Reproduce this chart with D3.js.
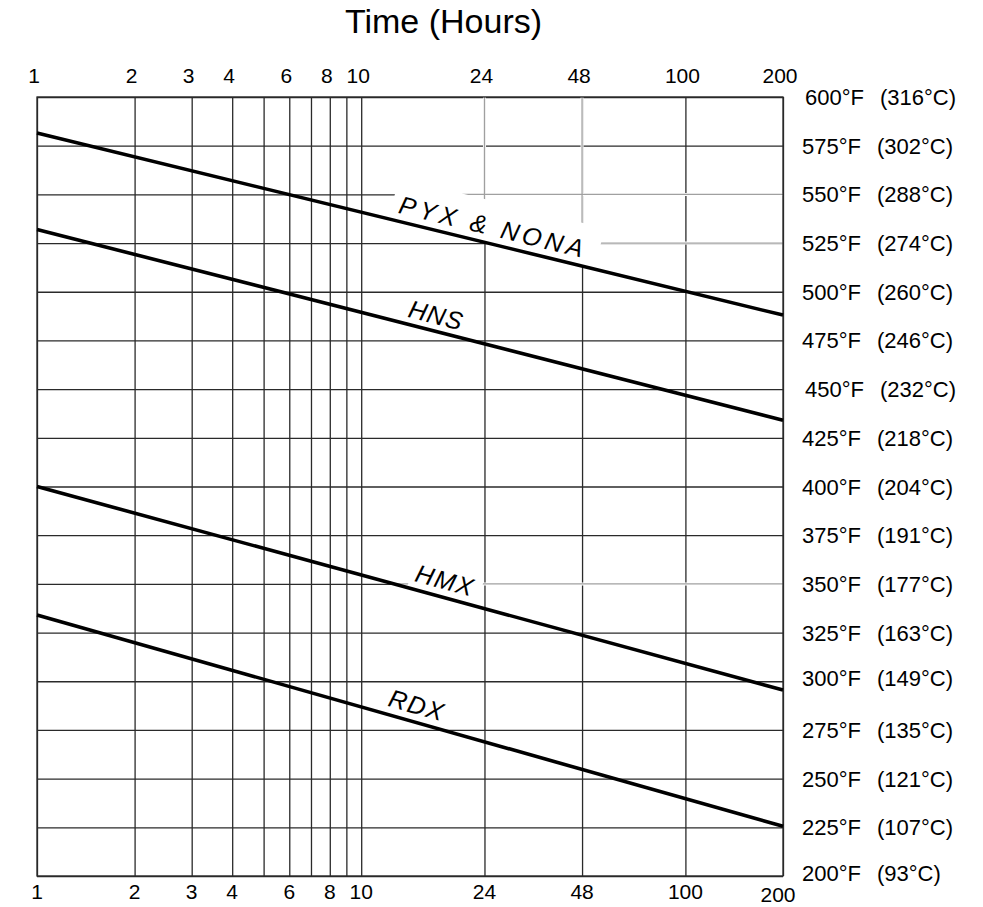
<!DOCTYPE html>
<html><head><meta charset="utf-8">
<script src="https://cdn.jsdelivr.net/npm/d3@7"></script>
<style>
body{margin:0;background:#fff}
svg text{font-family:"Liberation Sans",Arial,Helvetica,sans-serif;fill:#000}
</style></head>
<body><svg id="chart" width="983" height="907"></svg>
<script>
// ---- data ----
const hours = [1, 200];
const seriesNames = ["PYX & NONA", "HNS", "HMX", "RDX"];
const pyxNona = [581.5, 488];
const hns = [532, 434];
const hmx = [400, 295.5];
const rdx = [334, 225.5];
const seriesValues = [pyxNona, hns, hmx, rdx];
const labelHours = [24.5, 16.5, 17.5, 14.3];
const xTickLabels = [1, 2, 3, 4, 6, 8, 10, 24, 48, 100, 200];
const xGridHours = [1, 2, 3, 4, 5, 6, 7, 8, 9, 10, 24, 48, 100, 200];
const tempF = [600, 575, 550, 525, 500, 475, 450, 425, 400, 375, 350, 325, 300, 275, 250, 225, 200];
const tempC = [316, 302, 288, 274, 260, 246, 232, 218, 204, 191, 177, 163, 149, 135, 121, 107, 93];
const chartTitle = "Time (Hours)";

// ---- layout ----
const svg = d3.select("#chart");
const x = d3.scaleLog().domain([1, 200]).range([37, 783]);
const y = d3.scaleLinear().domain([200, 600]).range([876, 97]);
const pTop = y(600), pBot = y(200), pLeft = x(1), pRight = x(200);

const gGrid = svg.append("g");
const gLeader = svg.append("g");
const gMask = svg.append("g");
const gCurve = svg.append("g");
const gText = svg.append("g");

// gridlines via axes
gGrid.append("g").attr("transform", `translate(0,${pBot})`)
  .call(d3.axisBottom(x).tickValues(xGridHours).tickSize(-(pBot - pTop)).tickFormat(""))
  .call(g => g.select(".domain").remove())
  .selectAll("line").attr("stroke", "#2a2a2a").attr("stroke-width", 1.3);
gGrid.append("g").attr("transform", `translate(${pLeft},0)`)
  .call(d3.axisLeft(y).tickValues(tempF).tickSize(-(pRight - pLeft)).tickFormat(""))
  .call(g => g.select(".domain").remove())
  .selectAll("line").attr("stroke", "#2a2a2a").attr("stroke-width", 1.3);

// value of a series at hour h (straight in log-time)
function valAt(vals, h) {
  const t = Math.log(h / hours[0]) / Math.log(hours[1] / hours[0]);
  return vals[0] + (vals[1] - vals[0]) * t;
}
function hourAt(vals, v) {
  const t = (v - vals[0]) / (vals[1] - vals[0]);
  return hours[0] * Math.pow(hours[1] / hours[0], t);
}

// leader lines (gray) linking labels to axes
const leaders = [
  {h0: 24, h1: 24, v0: 600, v1: valAt(pyxNona, 24)},
  {h0: 48, h1: 48, v0: 600, v1: valAt(pyxNona, 48)},
  {h0: 20.5, h1: 200, v0: 550, v1: 550},
  {h0: hourAt(pyxNona, 525), h1: 200, v0: 525, v1: 525},
  {h0: hourAt(hmx, 350), h1: 200, v0: 350, v1: 350}
];
leaders.forEach(l => {
  gLeader.append("line").attr("x1", x(l.h0)).attr("x2", x(l.h1)).attr("y1", y(l.v0)).attr("y2", y(l.v1))
    .attr("stroke", "#fff").attr("stroke-width", 3);
});
leaders.forEach(l => {
  gLeader.append("line").attr("x1", x(l.h0)).attr("x2", x(l.h1)).attr("y1", y(l.v0)).attr("y2", y(l.v1))
    .attr("stroke", "#a0a0a0").attr("stroke-width", 1.3);
});
// redraw frame edges on top
gLeader.append("rect").attr("x", pLeft).attr("y", pTop).attr("width", pRight - pLeft).attr("height", pBot - pTop)
  .attr("fill", "none").attr("stroke", "#2a2a2a").attr("stroke-width", 1.3);

// curves
const line = d3.line().x(d => x(d[0])).y(d => y(d[1]));
seriesValues.forEach(vals => {
  gCurve.append("path").datum(hours.map((h, i) => [h, vals[i]]))
    .attr("d", line).attr("fill", "none").attr("stroke", "#000").attr("stroke-width", 3.6);
});

// curve labels
const labelStyle = [
  {d: 8, ls: 4, padL: 5, padR: 14, maskH: 42},
  {d: 7, ls: 1, padL: 4, padR: 4, maskH: 27},
  {d: 8, ls: 1.5, padL: 4, padR: 8, maskH: 28},
  {d: 8, ls: 1.5, padL: 4, padR: 4, maskH: 27}
];
seriesNames.forEach((name, i) => {
  const vals = seriesValues[i], st = labelStyle[i];
  const ang = Math.atan2(y(vals[1]) - y(vals[0]), x(hours[1]) - x(hours[0])) * 180 / Math.PI;
  const h = labelHours[i];
  const tr = `translate(${x(h)},${y(valAt(vals, h))}) rotate(${ang})`;
  const t = gText.append("g").attr("transform", tr).append("text")
    .attr("y", -st.d).attr("text-anchor", "middle").attr("font-style", "italic")
    .attr("font-size", 25).attr("letter-spacing", st.ls).attr("dx", st.ls / 2).text(name);
  const L = t.node().getComputedTextLength();
  gMask.append("rect").attr("transform", tr)
    .attr("x", -L / 2 - st.padL).attr("width", L + st.padL + st.padR)
    .attr("y", -st.maskH).attr("height", st.maskH - 1).attr("fill", "#fff");
});

// title
svg.append("text").attr("x", 443.5).attr("y", 33).attr("text-anchor", "middle")
  .attr("font-size", 34).text(chartTitle);

// top tick labels
svg.append("g").selectAll("text").data(xTickLabels).join("text")
  .attr("x", d => x(d) - 3).attr("y", 83).attr("text-anchor", "middle")
  .attr("font-size", 21).text(d => d);
// bottom tick labels
svg.append("g").selectAll("text").data(xTickLabels).join("text")
  .attr("x", (d, i) => x(d) - (i === xTickLabels.length - 1 ? 5 : 0))
  .attr("y", (d, i) => i === xTickLabels.length - 1 ? 902 : 899)
  .attr("text-anchor", "middle").attr("font-size", 21).text(d => d);

// right temperature labels
const nudge = {600: [3, 0], 450: [3, 0], 300: [0, -3], 200: [0, -3]};
const gR = svg.append("g");
tempF.forEach((f, i) => {
  const [nx, ny] = nudge[f] || [0, 0];
  gR.append("text").attr("x", 802 + nx).attr("y", y(f) + 8 + ny).attr("font-size", 22).text(f + "°F");
  gR.append("text").attr("x", 877 + nx).attr("y", y(f) + 8 + ny).attr("font-size", 22).text("(" + tempC[i] + "°C)");
});
</script></body></html>
